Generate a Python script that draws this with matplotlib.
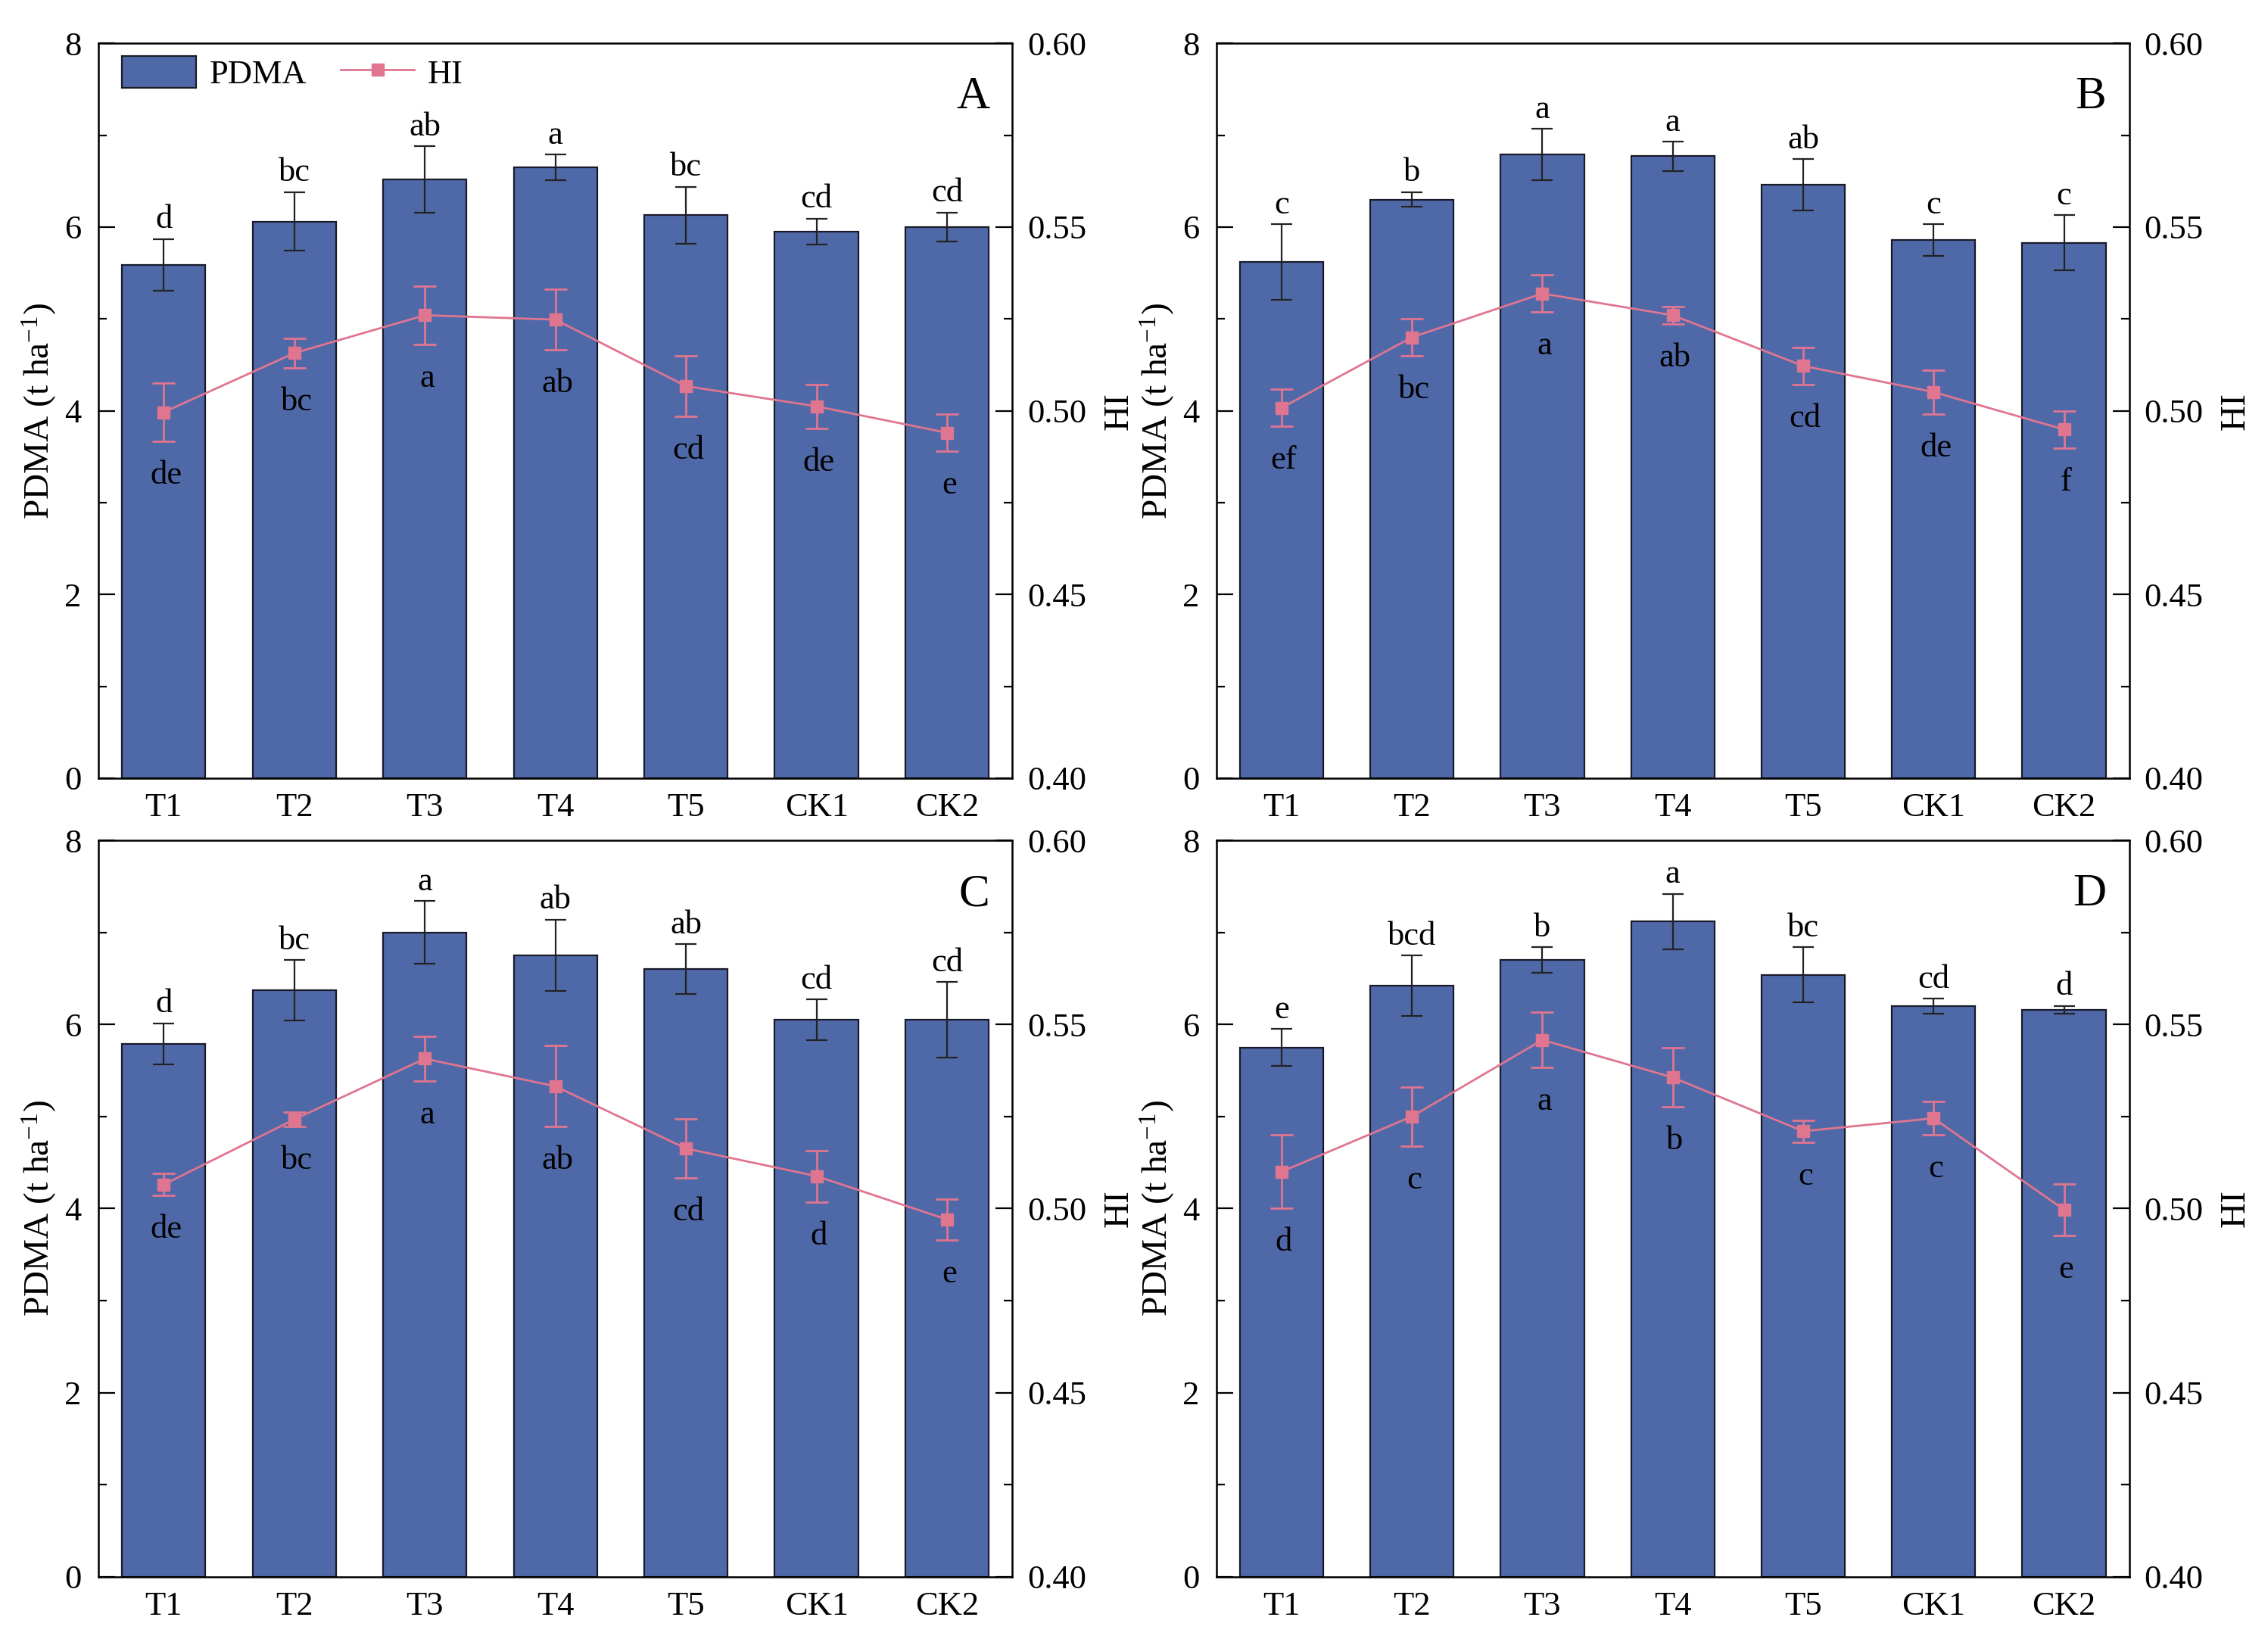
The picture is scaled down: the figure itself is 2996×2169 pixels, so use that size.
import numpy as np
import matplotlib
matplotlib.use("Agg")
import matplotlib.pyplot as plt
from matplotlib.ticker import MultipleLocator, FormatStrFormatter
from matplotlib.lines import Line2D

plt.rcParams['font.family'] = ['Liberation Serif', 'DejaVu Serif']
plt.rcParams['mathtext.fontset'] = 'custom'
plt.rcParams['mathtext.rm'] = 'Liberation Serif'
plt.rcParams['mathtext.it'] = 'Liberation Serif:italic'

treatments = ["T1", "T2", "T3", "T4", "T5", "CK1", "CK2"]

# Panel A
pdma_a = [5.59, 6.06, 6.52, 6.65, 6.13, 5.95, 6.00]
pdma_a_err = [0.28, 0.32, 0.36, 0.14, 0.31, 0.14, 0.16]
pdma_a_sig = ["d", "bc", "ab", "a", "bc", "cd", "cd"]
hi_a = [0.4996, 0.5157, 0.5260, 0.5248, 0.5067, 0.5012, 0.4940]
hi_a_err = [0.0080, 0.0040, 0.0080, 0.0082, 0.0082, 0.0060, 0.0050]
hi_a_sig = ["de", "bc", "a", "ab", "cd", "de", "e"]

# Panel B
pdma_b = [5.62, 6.30, 6.79, 6.77, 6.46, 5.86, 5.83]
pdma_b_err = [0.41, 0.08, 0.28, 0.16, 0.28, 0.17, 0.30]
pdma_b_sig = ["c", "b", "a", "a", "ab", "c", "c"]
hi_b = [0.5008, 0.5200, 0.5319, 0.5260, 0.5122, 0.5051, 0.4949]
hi_b_err = [0.0050, 0.0050, 0.0050, 0.0024, 0.0050, 0.0060, 0.0050]
hi_b_sig = ["ef", "bc", "a", "ab", "cd", "de", "f"]

# Panel C
pdma_c = [5.79, 6.37, 7.00, 6.75, 6.60, 6.05, 6.05]
pdma_c_err = [0.22, 0.33, 0.34, 0.39, 0.27, 0.22, 0.41]
pdma_c_sig = ["d", "bc", "a", "ab", "ab", "cd", "cd"]
hi_c = [0.5065, 0.5242, 0.5407, 0.5332, 0.5163, 0.5088, 0.4970]
hi_c_err = [0.0030, 0.0020, 0.0060, 0.0110, 0.0080, 0.0070, 0.0055]
hi_c_sig = ["de", "bc", "a", "ab", "cd", "d", "e"]

# Panel D
pdma_d = [5.75, 6.42, 6.70, 7.12, 6.54, 6.20, 6.16]
pdma_d_err = [0.20, 0.33, 0.14, 0.30, 0.30, 0.08, 0.04]
pdma_d_sig = ["e", "bcd", "b", "a", "bc", "cd", "d"]
hi_d = [0.5100, 0.5250, 0.5458, 0.5356, 0.5210, 0.5245, 0.4997]
hi_d_err = [0.0100, 0.0080, 0.0075, 0.0080, 0.0030, 0.0045, 0.0070]
hi_d_sig = ["d", "c", "a", "b", "c", "c", "e"]

panels = [
    ("A", pdma_a, pdma_a_err, pdma_a_sig, hi_a, hi_a_err, hi_a_sig),
    ("B", pdma_b, pdma_b_err, pdma_b_sig, hi_b, hi_b_err, hi_b_sig),
    ("C", pdma_c, pdma_c_err, pdma_c_sig, hi_c, hi_c_err, hi_c_sig),
    ("D", pdma_d, pdma_d_err, pdma_d_sig, hi_d, hi_d_err, hi_d_sig),
]

bar_color = "#4f69a8"
hi_color = "#e07590"
fs = 32

fig = plt.figure(figsize=(29.96, 21.69), dpi=100)
rects = [
    [0.0434, 0.5261, 0.4030, 0.4475],
    [0.5363, 0.5261, 0.4025, 0.4475],
    [0.0434, 0.0398, 0.4030, 0.4484],
    [0.5363, 0.0398, 0.4025, 0.4484],
]

x = np.arange(len(treatments))
for rect, (tag, pdma, pdma_err, pdma_sig, hi, hi_err, hi_sig) in zip(rects, panels):
    ax = fig.add_axes(rect)
    ax2 = ax.twinx()

    bars = ax.bar(x, pdma, width=0.64, color=bar_color, edgecolor="#1a1a2a",
                  linewidth=1.6, zorder=2)
    ax.errorbar(x, pdma, yerr=pdma_err, fmt="none", ecolor="#222222",
                elinewidth=1.6, capsize=10, capthick=1.6, zorder=3)
    for xi, v, e, s in zip(x, pdma, pdma_err, pdma_sig):
        ax.annotate(s, (xi, v + e), xytext=(0, 4), textcoords="offset points",
                    ha="center", va="bottom", fontsize=fs)

    ax2.errorbar(x, hi, yerr=hi_err, color=hi_color, marker="s",
                 markersize=12, linewidth=2, elinewidth=2, capsize=11,
                 capthick=2, zorder=4)
    for xi, v, e, s in zip(x, hi, hi_err, hi_sig):
        ax2.annotate(s, (xi, v - e), xytext=(2, -18), textcoords="offset points",
                     ha="center", va="top", fontsize=fs)

    ax.set_xlim(-0.5, len(treatments) - 0.5)
    ax.set_ylim(0, 8)
    ax2.set_ylim(0.40, 0.60)
    ax.set_xticks(x)
    ax.set_xticklabels(treatments)
    ax.yaxis.set_major_locator(MultipleLocator(2))
    ax.yaxis.set_minor_locator(MultipleLocator(1))
    ax2.yaxis.set_major_locator(MultipleLocator(0.05))
    ax2.yaxis.set_minor_locator(MultipleLocator(0.025))
    ax2.yaxis.set_major_formatter(FormatStrFormatter("%.2f"))

    ax.tick_params(axis="x", length=0, pad=14, labelsize=fs)
    ax.tick_params(axis="y", which="major", direction="in", length=16, width=1.6,
                   pad=16, labelsize=fs)
    ax.tick_params(axis="y", which="minor", direction="in", length=8, width=1.6)
    ax2.tick_params(axis="y", which="major", direction="in", length=16, width=1.6,
                    pad=14, labelsize=fs)
    ax2.tick_params(axis="y", which="minor", direction="in", length=8, width=1.6)
    for sp in ax2.spines.values():
        sp.set_linewidth(1.8)

    ax.set_ylabel("PDMA (t ha$^{-1}$)", fontsize=fs + 2, labelpad=6)
    ax2.set_ylabel("HI", fontsize=fs + 2, labelpad=16)

    ax.text(0.975, 0.955, tag, transform=ax.transAxes, ha="right", va="top",
            fontsize=44)

    if tag == "A":
        hi_handle = Line2D([], [], color=hi_color, marker="s", markersize=12,
                           linewidth=2)
        ax.legend([bars, hi_handle], ["PDMA", "HI"], loc="upper left", ncol=2,
                  frameon=False, fontsize=fs, handlelength=2.2, handleheight=1.1,
                  columnspacing=1.0, handletextpad=0.4,
                  bbox_to_anchor=(0.0, 1.015), borderaxespad=0.3)

fig.savefig("out.png", dpi=100)
